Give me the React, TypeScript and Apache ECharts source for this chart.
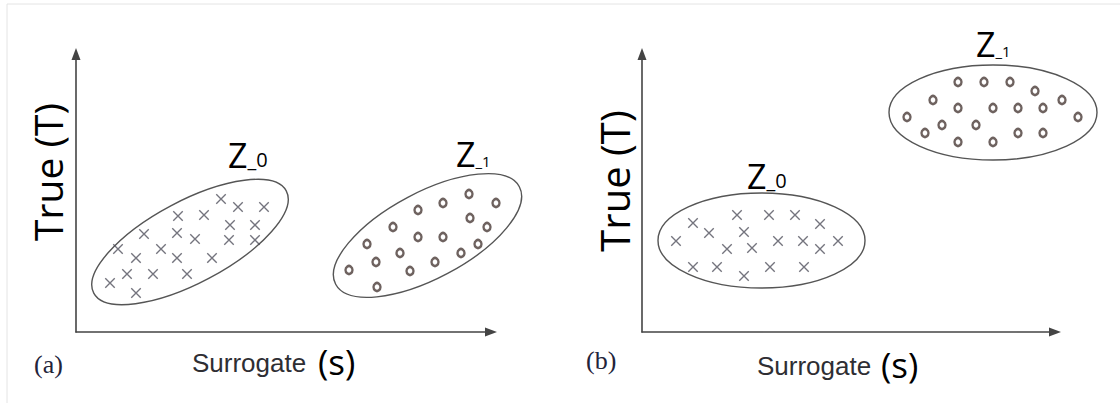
import React, { useEffect, useRef } from "react";
import * as echarts from "echarts";

// Panel (a): points in the panel's own (unitless) Surrogate / True units
const A_CROSS: [number, number][] = [
  [145, 133], [162, 125], [188, 125], [102, 116], [128, 117], [154, 107], [179, 107],
  [68, 98], [101, 99], [119, 93], [153, 92], [179, 92], [42, 83], [85, 83],
  [60, 74], [101, 74], [136, 74], [51, 58], [77, 58], [111, 58], [34, 49], [60, 39],
];
const A_CIRCLE: [number, number][] = [
  [393, 138], [367, 129], [420, 129], [342, 122], [394, 114], [411, 105], [317, 105],
  [342, 95], [367, 95], [291, 88], [402, 88], [324, 79], [385, 79], [300, 70],
  [359, 70], [273, 62], [334, 61], [301, 45],
];
// Panel (b)
const B_CROSS: [number, number][] = [
  [95, 117], [127, 117], [153, 117], [51, 109], [178, 108], [67, 99], [102, 100],
  [34, 91], [136, 91], [161, 91], [196, 91], [85, 83], [110, 84], [178, 83],
  [51, 65], [75, 65], [102, 56], [128, 65], [162, 65],
];
const B_CIRCLE: [number, number][] = [
  [316, 250], [342, 250], [368, 250], [393, 241], [291, 232], [420, 232], [316, 224],
  [351, 224], [376, 224], [401, 224], [265, 215], [436, 215], [300, 207], [334, 207],
  [283, 199], [376, 199], [401, 199], [316, 190], [351, 190],
];
// Group envelopes: [centre x, centre y, semi-axis x, semi-axis y, tilt (deg)]
const A_GROUPS: number[][] = [
  [114, 90, 109, 41, 28],
  [351.5, 96.5, 104, 43, 28],
];
const B_GROUPS: number[][] = [
  [119.5, 91.5, 103.5, 47.5, 0],
  [351, 219.5, 104, 47.5, 0],
];
const GROUP_NAMES = ["Z", "Z"];
const GROUP_SUBS = ["_0", "_1"];
const X_TITLE = "Surrogate";
const X_SYMBOL = "(s)";
const Y_TITLE = "True (T)";
const PANEL_TAGS = ["(a)", "(b)"];
const X_MAX = [415, 413];
const Y_MAX = 278;

const INK = "#444";
const MARK = "#50505c";
const OMARK = "#4a3b37";
const SANS = '"Open Sans", "Noto Sans", sans-serif';
const ARIAL = '"Liberation Sans", Arial, sans-serif';
const SERIF = '"Liberation Serif", "Times New Roman", serif';

function ellipseSeries(data: number[][], idx: number) {
  return {
    type: "custom",
    xAxisIndex: idx,
    yAxisIndex: idx,
    clip: false,
    silent: true,
    data,
    renderItem: (_p: any, api: any) => {
      const c = api.coord([api.value(0), api.value(1)]);
      const s = api.size([api.value(2), api.value(3)]);
      return {
        type: "ellipse",
        x: c[0],
        y: c[1],
        rotation: (api.value(4) * Math.PI) / 180,
        shape: { cx: 0, cy: 0, rx: s[0], ry: s[1] },
        style: { fill: "none", stroke: "#555", lineWidth: 1.4 },
      };
    },
  };
}

function crossSeries(data: [number, number][], idx: number) {
  return {
    type: "scatter",
    xAxisIndex: idx,
    yAxisIndex: idx,
    clip: false,
    silent: true,
    symbol: "path://M0 0L10 10M10 0L0 10",
    symbolSize: 9.5,
    itemStyle: { color: "transparent", borderColor: MARK, borderWidth: 1.4 },
    data,
  };
}

function circleSeries(data: [number, number][], idx: number) {
  return {
    type: "scatter",
    xAxisIndex: idx,
    yAxisIndex: idx,
    clip: false,
    silent: true,
    symbol: "circle",
    symbolSize: [7, 8],
    itemStyle: { color: "transparent", borderColor: OMARK, borderWidth: 2.5 },
    data,
  };
}

function axis(idx: number, max: number) {
  return {
    type: "value",
    gridIndex: idx,
    min: 0,
    max,
    axisLine: {
      show: true,
      onZero: false,
      symbol: ["none", "triangle"],
      symbolSize: [9, 12],
      lineStyle: { color: INK, width: 1.6 },
    },
    axisTick: { show: false },
    axisLabel: { show: false },
    splitLine: { show: false },
  };
}

function zLabel(x: number, baseline: number, i: number, subSize: number) {
  return {
    type: "text",
    x,
    y: baseline + 6,
    style: {
      text: `{z|${GROUP_NAMES[i]}}{s|${GROUP_SUBS[i]}}`,
      verticalAlign: "bottom",
      align: "left",
      rich: {
        z: { fontSize: 34, fontFamily: SANS, fill: "#000", verticalAlign: "bottom", lineHeight: 34 },
        s: {
          fontSize: subSize,
          fontFamily: SANS,
          fill: "#000",
          verticalAlign: "bottom",
          lineHeight: subSize,
          padding: [0, 0, 3, 0],
        },
      },
    },
  };
}

export default function App() {
  const ref = useRef<HTMLDivElement>(null);
  useEffect(() => {
    document.body.style.margin = "0";
    const chart = echarts.init(ref.current!, null, { renderer: "svg" });
    const option: any = {
      animation: false,
      backgroundColor: "#fff",
      grid: [
        { left: 76, top: 54, width: X_MAX[0], height: Y_MAX },
        { left: 642, top: 54, width: X_MAX[1], height: Y_MAX },
      ],
      xAxis: [axis(0, X_MAX[0]), axis(1, X_MAX[1])],
      yAxis: [axis(0, Y_MAX), axis(1, Y_MAX)],
      series: [
        ellipseSeries(A_GROUPS, 0),
        crossSeries(A_CROSS, 0),
        circleSeries(A_CIRCLE, 0),
        ellipseSeries(B_GROUPS, 1),
        crossSeries(B_CROSS, 1),
        circleSeries(B_CIRCLE, 1),
      ],
      graphic: [
        {
          type: "rect",
          silent: true,
          z: -10,
          shape: { x: 7, y: 4, width: 1200, height: 500 },
          style: { fill: "none", stroke: "#e4e4e4", lineWidth: 1 },
        },
        // panel (a) texts
        {
          type: "text",
          x: 47,
          y: 172,
          rotation: Math.PI / 2,
          style: { text: Y_TITLE, fontSize: 39, fontFamily: SANS, fill: "#000", align: "center", verticalAlign: "middle" },
        },
        {
          type: "text",
          x: 34,
          y: 364,
          style: { text: PANEL_TAGS[0], fontSize: 26, fontFamily: SERIF, fill: "#23233a", align: "left", verticalAlign: "middle" },
        },
        {
          type: "text",
          x: 192,
          y: 363,
          style: { text: X_TITLE, fontSize: 26, fontFamily: ARIAL, fill: "#2e2e33", align: "left", verticalAlign: "middle" },
        },
        {
          type: "text",
          x: 318,
          y: 361,
          style: { text: X_SYMBOL, fontSize: 35, fontFamily: SANS, fill: "#000", align: "left", verticalAlign: "middle" },
        },
        zLabel(228, 166, 0, 20),
        zLabel(456, 165, 1, 15),
        // panel (b) texts
        {
          type: "text",
          x: 614,
          y: 181,
          rotation: Math.PI / 2,
          style: { text: Y_TITLE, fontSize: 40, fontFamily: SANS, fill: "#000", align: "center", verticalAlign: "middle" },
        },
        {
          type: "text",
          x: 586,
          y: 360,
          style: { text: PANEL_TAGS[1], fontSize: 26, fontFamily: SERIF, fill: "#23233a", align: "left", verticalAlign: "middle" },
        },
        {
          type: "text",
          x: 757,
          y: 366,
          style: { text: X_TITLE, fontSize: 26, fontFamily: ARIAL, fill: "#2e2e33", align: "left", verticalAlign: "middle" },
        },
        {
          type: "text",
          x: 881,
          y: 364,
          style: { text: X_SYMBOL, fontSize: 35, fontFamily: SANS, fill: "#000", align: "left", verticalAlign: "middle" },
        },
        zLabel(747, 187, 0, 20),
        zLabel(976, 55, 1, 15),
      ],
    };
    chart.setOption(option);
    return () => chart.dispose();
  }, []);
  return <div ref={ref} style={{ width: 1120, height: 403 }} />;
}
